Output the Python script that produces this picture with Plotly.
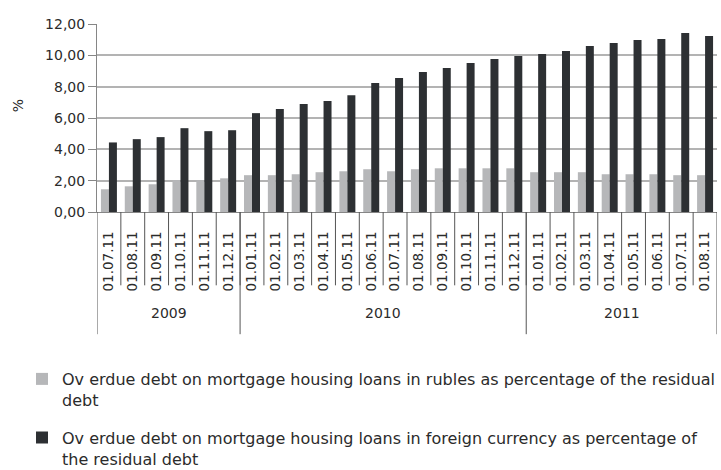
import plotly.graph_objects as go

# Month labels along the axis, grouped by year
labels = ["01.07.11", "01.08.11", "01.09.11", "01.10.11", "01.11.11", "01.12.11",
          "01.01.11", "01.02.11", "01.03.11", "01.04.11", "01.05.11", "01.06.11",
          "01.07.11", "01.08.11", "01.09.11", "01.10.11", "01.11.11", "01.12.11",
          "01.01.11", "01.02.11", "01.03.11", "01.04.11", "01.05.11", "01.06.11",
          "01.07.11", "01.08.11"]
years = ["2009", "2010", "2011"]
months_per_year = [6, 12, 8]

# Overdue debt shares, %
rubles = [1.45, 1.64, 1.77, 2.03, 2.03, 2.15, 2.35, 2.35, 2.41, 2.54, 2.60, 2.73,
          2.60, 2.73, 2.79, 2.79, 2.79, 2.79, 2.54, 2.54, 2.54, 2.41, 2.41, 2.41,
          2.35, 2.35]
foreign = [4.44, 4.65, 4.78, 5.35, 5.16, 5.22, 6.31, 6.57, 6.89, 7.08, 7.46, 8.23,
           8.55, 8.93, 9.19, 9.51, 9.76, 9.95, 10.08, 10.27, 10.60, 10.79, 10.98, 11.04,
           11.42, 11.23]

name_rub = ("Ov erdue debt on mortgage housing loans in rubles as percentage of the residual"
            "<br>debt")
name_fx = ("Ov erdue debt on mortgage housing loans in foreign currency as percentage of"
           "<br>the residual debt")

FONT = "DejaVu Sans"
TXT = "#2b2b2b"
W, H = 721, 470
M_L, M_R, M_T, M_B = 97, 4, 24, 258.3
PW, PH = W - M_L - M_R, H - M_T - M_B
x = list(range(len(labels)))

fig = go.Figure()
fig.add_trace(go.Bar(x=x, y=rubles, name=name_rub, marker_color="#b6b7b9",
                     marker_line_width=0, legendgroup="a"))
fig.add_trace(go.Bar(x=x, y=foreign, name=name_fx, marker_color="#2d3033",
                     marker_line_width=0, legendgroup="b"))

shapes = []
annotations = []
inner_depth = -0.39
outer_depth = -0.65

# separators between months
for i in range(1, len(labels)):
    shapes.append(dict(type="line", xref="x", yref="paper", x0=i - 0.5, x1=i - 0.5,
                       y0=0, y1=inner_depth, line=dict(color="#555555", width=1)))

# year dividers and year labels
start = 0
bounds = [-0.5]
for yr, n in zip(years, months_per_year):
    end = start + n
    bounds.append(end - 0.5)
    annotations.append(dict(x=(start + end - 1) / 2, y=-0.59, xref="x", yref="paper",
                            text=yr, showarrow=False,
                            font=dict(family=FONT, size=14, color=TXT)))
    start = end
for b in bounds:
    shapes.append(dict(type="line", xref="x", yref="paper", x0=b, x1=b,
                       y0=0, y1=outer_depth, line=dict(color="#555555", width=1)))

# unit label beside the value axis
annotations.append(dict(x=(18 - M_L) / PW, y=(H - M_B - 106) / PH,
                        xref="paper", yref="paper", xanchor="center", yanchor="middle",
                        text="%", textangle=-90, showarrow=False,
                        font=dict(family=FONT, size=14, color=TXT)))

fig.update_layout(
    width=W, height=H,
    margin=dict(l=M_L, r=M_R, t=M_T, b=M_B, autoexpand=False),
    paper_bgcolor="white", plot_bgcolor="white",
    barmode="group", bargap=0.33, bargroupgap=0,
    separators=", ",
    font=dict(family=FONT, size=14, color=TXT),
    shapes=shapes, annotations=annotations,
    legend=dict(xref="container", yref="container",
                x=22 / W, xanchor="left", y=1 - 362 / H, yanchor="top",
                valign="top", tracegroupgap=14,
                font=dict(family=FONT, size=16, color=TXT),
                bgcolor="rgba(0,0,0,0)"),
    showlegend=True,
)
fig.update_xaxes(
    range=[-0.5, len(labels) - 0.5], automargin=False,
    tickmode="array", tickvals=x, ticktext=labels, tickangle=-90,
    ticks="", ticklabelstandoff=13,
    showline=True, linecolor="#868686", linewidth=1,
    showgrid=False, zeroline=False,
    tickfont=dict(family=FONT, size=13.5, color=TXT),
)
fig.update_yaxes(
    range=[0, 12], dtick=2, tickformat=".2f", automargin=False,
    showgrid=True, gridcolor="#b3b3b3", gridwidth=2,
    zeroline=False,
    showline=True, linecolor="#868686", linewidth=1,
    ticks="outside", ticklen=8, tickcolor="#868686",
    tickfont=dict(family=FONT, size=14, color=TXT),
)

fig.write_html("out.html")
